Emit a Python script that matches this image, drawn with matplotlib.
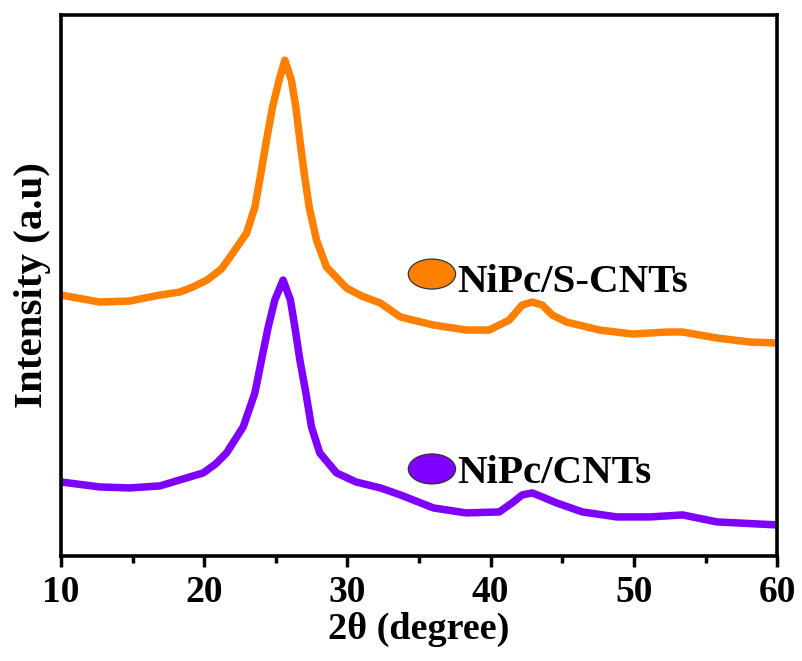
import matplotlib
matplotlib.use("Agg")
import matplotlib.pyplot as plt
from matplotlib.patches import Ellipse

# 2-theta positions (degree) and intensities (a.u.) for each sample
two_theta_s = [10.0, 12.7, 14.8, 16.9, 18.3, 19.2, 20.2, 21.2, 22.0, 22.96, 23.54, 23.96,
               24.35, 24.77, 25.23, 25.63, 26.09, 26.40, 26.68, 26.98, 27.33, 27.84, 28.54,
               29.94, 31.0, 32.3, 33.7, 36.0, 38.3, 39.9, 41.3, 42.2, 42.9, 43.6, 44.3,
               45.3, 47.6, 49.9, 52.3, 53.4, 55.8, 58.1, 60.0]
nipc_s_cnts = [261, 254, 255, 261, 264, 269, 276, 287, 303, 323, 349, 383,
               416, 449, 476, 496, 476, 449, 416, 383, 349, 316, 289,
               268, 260, 253, 239, 231, 226, 226, 236, 251, 254, 251, 241,
               234, 226, 222, 224, 224, 218, 214, 213]

two_theta_c = [10.0, 12.7, 14.8, 16.9, 18.3, 19.93, 20.8, 21.56, 22.72, 23.54, 24.0, 24.47,
               24.93, 25.51, 26.02, 26.33, 26.68, 27.10, 27.49, 28.07, 29.24, 30.6, 32.3,
               33.7, 36.0, 38.3, 40.6, 41.5, 42.2, 42.9, 43.6, 44.6, 46.4, 48.8, 51.1,
               53.4, 55.8, 60.0]
nipc_cnts = [74, 69, 68, 70, 76, 83, 92, 103, 129, 163, 196, 229,
             256, 276, 256, 229, 196, 163, 129, 103, 83, 74, 68,
             61, 48, 43, 44, 53, 61, 63, 59, 53, 44, 39, 39,
             41, 34, 31]

labels = ["NiPc/S-CNTs", "NiPc/CNTs"]
colors = ["#FF8000", "#8000FF"]
xticks = [10, 20, 30, 40, 50, 60]

plt.rcParams["font.family"] = ["Liberation Serif", "DejaVu Serif"]
plt.rcParams["font.weight"] = "bold"

fig = plt.figure(figsize=(8.02, 6.61), dpi=100)
ax = fig.add_axes([0.076, 0.159, 0.893, 0.818])

ax.plot(two_theta_s, nipc_s_cnts, color=colors[0], lw=5.4,
        solid_joinstyle="round", solid_capstyle="butt")
ax.plot(two_theta_c, nipc_cnts, color=colors[1], lw=5.4,
        solid_joinstyle="round", solid_capstyle="butt")

ax.set_xlim(10, 60)
ax.set_ylim(0, 541)

# in-plot labels with ellipse keys
key_x, text_x = 35.9, 37.7
for lab, col, ky, ty in [(labels[0], colors[0], 282, 264), (labels[1], colors[1], 87, 73)]:
    ax.add_patch(Ellipse((key_x, ky), 3.3, 30, facecolor=col, edgecolor="#333333", lw=0.9, zorder=4))
    ax.text(text_x, ty, lab, fontsize=29.5, fontweight="bold", va="baseline", ha="left", zorder=5)

ax.set_xticks(xticks)
ax.set_xticks([15, 25, 35, 45, 55], minor=True)
ax.set_yticks([])
ax.tick_params(axis="x", which="major", direction="out", length=8, width=2.5,
               labelsize=27, pad=6)
ax.tick_params(axis="x", which="minor", direction="out", length=5, width=2.5)
for lbl in ax.get_xticklabels():
    lbl.set_fontweight("bold")
for sp in ax.spines.values():
    sp.set_linewidth(2.6)

ax.set_xlabel("2θ (degree)", fontsize=27.5, fontweight="bold", labelpad=1)
ax.set_ylabel("Intensity (a.u)", fontsize=29.5, fontweight="bold", labelpad=7)

fig.savefig("out.png", dpi=100)
